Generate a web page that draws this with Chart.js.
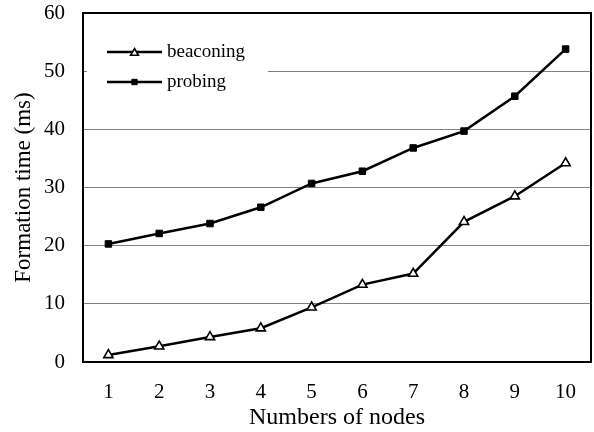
<!DOCTYPE html>
<html>
<head>
<meta charset="utf-8">
<script src="https://cdn.jsdelivr.net/npm/chart.js@4/dist/chart.umd.min.js"></script>
<style>
  html, body { margin: 0; padding: 0; background: #fff; }
  #wrap { width: 594px; height: 432px; }
</style>
</head>
<body>
<div id="wrap"><canvas id="c" width="594" height="432"></canvas></div>
<script>
// Formation time versus number of nodes, for two discovery methods
const categories = ['1', '2', '3', '4', '5', '6', '7', '8', '9', '10'];
const beaconing = [1.2, 2.7, 4.3, 5.8, 9.4, 13.3, 15.2, 24.1, 28.5, 34.2];
const probing = [20.3, 22.1, 23.8, 26.6, 30.7, 32.8, 36.8, 39.7, 45.7, 53.8];
const seriesNames = ['beaconing', 'probing'];
const xTitle = 'Numbers of nodes';
const yTitle = 'Formation time (ms)';

const SERIF = "'Liberation Serif', 'Times New Roman', serif";

// Frame around the plot area plus the in-plot legend on a white box
const framePlugin = {
  id: 'frameAndLegend',
  beforeDatasetsDraw(chart) {
    const { ctx, chartArea: a } = chart;
    ctx.save();
    // white box behind the legend
    ctx.fillStyle = '#ffffff';
    ctx.fillRect(a.left + 4, a.top + 17, 181, 70);
    // plot frame
    ctx.strokeStyle = '#000000';
    ctx.lineWidth = 2;
    ctx.strokeRect(a.left, a.top, a.right - a.left, a.bottom - a.top);
    // legend entries
    chart.data.datasets.forEach((ds, i) => {
      const y = a.top + 39 + i * 30;
      const x0 = a.left + 24, x1 = a.left + 79;
      ctx.strokeStyle = ds.borderColor;
      ctx.lineWidth = ds.borderWidth;
      ctx.beginPath();
      ctx.moveTo(x0, y);
      ctx.lineTo(x1, y);
      ctx.stroke();
      ctx.fillStyle = ds.pointBackgroundColor;
      ctx.strokeStyle = ds.pointBorderColor;
      ctx.lineWidth = ds.pointBorderWidth;
      Chart.helpers.drawPoint(ctx, {
        pointStyle: ds.pointStyle,
        rotation: 0,
        radius: ds.pointRadius - 0.8,
        borderWidth: ds.pointBorderWidth
      }, (x0 + x1) / 2, y + (ds.pointStyle === 'triangle' ? 1 : 0));
      ctx.fillStyle = '#000000';
      ctx.font = "19px " + SERIF;
      ctx.textAlign = 'left';
      ctx.textBaseline = 'middle';
      ctx.fillText(ds.label, x1 + 5, y);
    });
    ctx.restore();
  }
};

new Chart(document.getElementById('c'), {
  type: 'line',
  data: {
    labels: categories,
    datasets: [
      {
        label: seriesNames[0],
        data: beaconing,
        borderColor: '#000000',
        borderWidth: 2.5,
        pointStyle: 'triangle',
        pointRadius: 5.3,
        pointBackgroundColor: '#ffffff',
        pointBorderColor: '#000000',
        pointBorderWidth: 1.6,
        tension: 0
      },
      {
        label: seriesNames[1],
        data: probing,
        borderColor: '#000000',
        borderWidth: 2.5,
        pointStyle: 'rect',
        pointRadius: 4.6,
        pointBackgroundColor: '#000000',
        pointBorderColor: '#000000',
        pointBorderWidth: 1,
        tension: 0
      }
    ]
  },
  options: {
    responsive: false,
    animation: false,
    devicePixelRatio: 1,
    layout: { autoPadding: false, padding: { top: 13, right: 3, bottom: 0, left: 0 } },
    plugins: {
      legend: { display: false },
      tooltip: { enabled: false }
    },
    scales: {
      x: {
        type: 'category',
        offset: true,
        grid: { display: false, drawTicks: false },
        border: { display: false },
        ticks: {
          color: '#000000',
          font: { family: SERIF, size: 21 },
          padding: 18,
          maxRotation: 0,
          autoSkip: false
        },
        title: {
          display: true,
          text: xTitle,
          color: '#000000',
          font: { family: SERIF, size: 24 },
          padding: { top: 0, bottom: 0 }
        },
        afterFit(scale) {
          scale.height = 70;
          scale.paddingLeft = 0;
          scale.paddingRight = 0;
        }
      },
      y: {
        min: 0,
        max: 60,
        grid: { color: '#808080', lineWidth: 1, drawTicks: false },
        border: { display: false },
        ticks: {
          stepSize: 10,
          color: '#000000',
          font: { family: SERIF, size: 21 },
          padding: 18
        },
        title: {
          display: true,
          text: yTitle,
          color: '#000000',
          font: { family: SERIF, size: 23 },
          padding: { top: 10, bottom: 0 }
        },
        afterFit(scale) {
          scale.width = 83;
          scale.paddingTop = 0;
          scale.paddingBottom = 0;
        }
      }
    }
  },
  plugins: [framePlugin]
});
</script>
</body>
</html>
